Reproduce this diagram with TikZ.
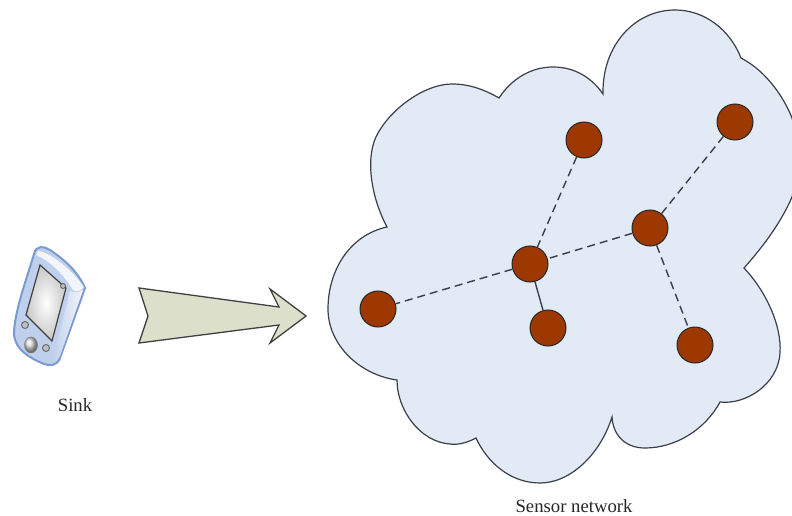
\documentclass[tikz,border=0pt]{standalone}
\usepackage{fontspec}
\setmainfont{Liberation Serif}
\usepackage{xcolor}
\usepackage{tikz}
\usetikzlibrary{positioning}
\definecolor{cloudblue}{HTML}{E2EAF6}
\definecolor{sensorred}{HTML}{9C3800}
\definecolor{arrowgreen}{HTML}{DCE0CB}
\definecolor{edgegray}{HTML}{3A3F48}
\definecolor{bodyblue}{HTML}{BFD0EC}
\definecolor{rimblue}{HTML}{7C9AD2}
\tikzset{main node/.style={circle,fill=sensorred,draw=black!85,line width=1pt,minimum size=36pt,inner sep=0pt},}
\tikzset{caption/.style={font=\fontsize{18.7}{22}\selectfont,text=black!85,inner sep=0pt},}
\tikzset{link/.style={draw=edgegray,line width=1.4pt},}

\begin{document}
\begin{tikzpicture}[x=1pt,y=-1pt]
	\clip (0,0) rectangle (792,516);

	% cloud
	\path[fill=cloudblue,draw=edgegray,line width=1.2pt]
	(387,227) .. controls (370,195) and (365,155) .. (378,133)
	.. controls (392,108) and (425,84) .. (452,84)
	.. controls (470,84) and (485,90) .. (499,98)
	.. controls (512,78) and (532,67) .. (553,67)
	.. controls (575,67) and (592,78) .. (603,94)
	.. controls (602,45) and (635,10) .. (675,10)
	.. controls (705,10) and (730,30) .. (741,58)
	.. controls (768,72) and (785,100) .. (792,118)
	.. controls (798,140) and (800,165) .. (792,197)
	.. controls (780,225) and (760,250) .. (744,268)
	.. controls (765,290) and (782,325) .. (780,353)
	.. controls (778,385) and (745,405) .. (720,402)
	.. controls (705,430) and (675,448) .. (645,448)
	.. controls (625,448) and (613,435) .. (612,417)
	.. controls (600,455) and (570,483) .. (540,483)
	.. controls (510,483) and (487,462) .. (476,438)
	.. controls (465,444) and (455,445) .. (450,444)
	.. controls (420,442) and (397,410) .. (397,380)
	.. controls (360,375) and (328,345) .. (328,309)
	.. controls (328,270) and (350,235) .. (387,227)
	-- cycle;

	% sensors
	\node[main node] (1) at (584,140) {};
	\node[main node] (2) at (735,122) {};
	\node[main node] (3) at (650,228) {};
	\node[main node] (4) at (530,264) {};
	\node[main node] (5) at (378,309) {};
	\node[main node] (6) at (548,328) {};
	\node[main node] (7) at (695,345) {};

	\path[link,dash pattern=on 8pt off 5pt]
	(1) edge (4)
	(2) edge (3)
	(3) edge (4)
	(3) edge (7)
	(4) edge (5)
	;
	\path[link]
	(4) edge (6)
	;

	% arrow
	\path[fill=arrowgreen,draw=black!75,line width=1.3pt]
	(139,288) -- (279,307) -- (270,289) -- (306,316) -- (270,343) -- (279,325) -- (139,343) -- (148,316) -- cycle;

	% sink
	\path[fill=bodyblue,draw=rimblue,line width=2pt]
	(34,254) .. controls (36,245) and (44,246) .. (50,250)
	.. controls (65,260) and (78,272) .. (85,288)
	-- (60,358) .. controls (57,366) and (50,366) .. (44,364)
	.. controls (30,358) and (15,350) .. (14,334)
	.. controls (14,312) and (28,275) .. (34,254) -- cycle;
	\path[fill=white!80!bodyblue]
	(38,251) .. controls (50,252) and (72,270) .. (84,287)
	.. controls (80,292) and (76,292) .. (73,290)
	.. controls (62,272) and (48,260) .. (36,255) -- cycle;
	\path[left color=bodyblue,right color=white!80!bodyblue]
	(70,291) .. controls (75,293) and (80,292) .. (83,290)
	-- (60,356) .. controls (57,362) and (54,362) .. (52,362) -- cycle;
	\path[inner color=white,outer color=black!22,draw=black!75,line width=1.2pt]
	(40,265) -- (66,288) -- (52,341) -- (26,315) -- cycle;
	\path[ball color=black!15,draw=black!50,line width=.5pt]
	(31,345) ellipse (6.5pt and 8pt);
	\path[fill=black!25,draw=black!60,line width=.9pt]
	(25,325) circle (3.5pt) (46,348) circle (3.5pt) (63,286) circle (2.5pt);

	\node[caption] (sink) at (75,405) {Sink};
	\node[caption] (network) at (574,506) {Sensor network};
\end{tikzpicture}
\end{document}
